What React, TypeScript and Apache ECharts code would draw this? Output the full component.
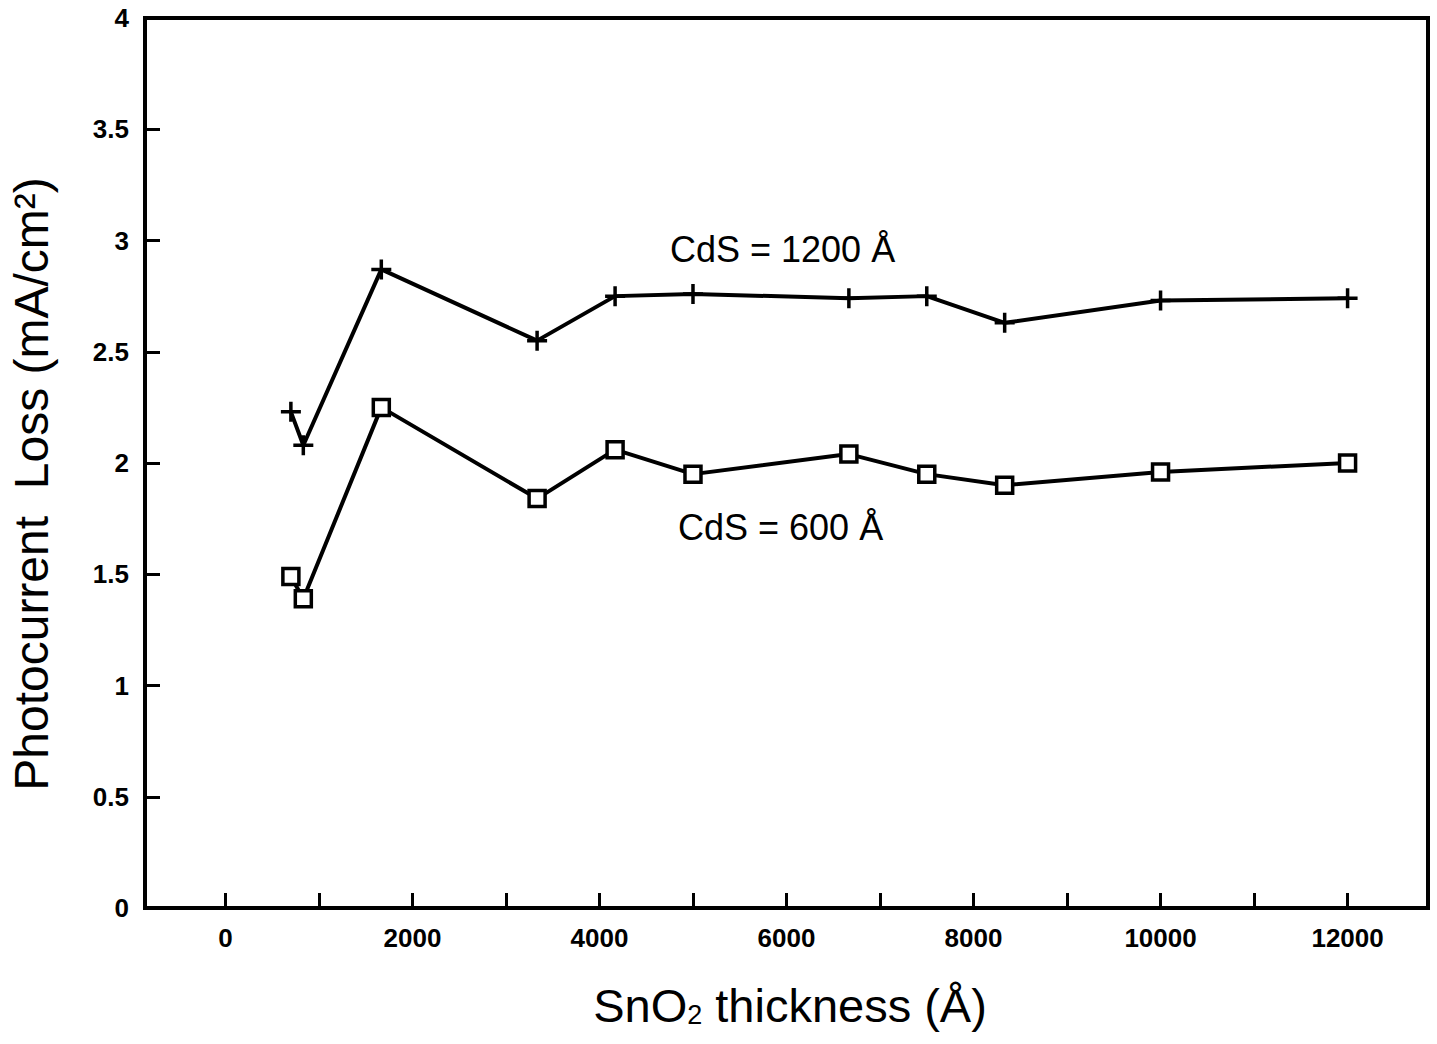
import React, { useEffect, useRef } from "react";
import * as echarts from "echarts";

// SnO2 thickness (Å) at which each cell was measured
const thickness = [700, 833, 1667, 3333, 4167, 5000, 6667, 7500, 8333, 10000, 12000];
// Photocurrent loss (mA/cm²) for the two CdS thicknesses
const lossCdS1200 = [2.23, 2.08, 2.87, 2.55, 2.75, 2.76, 2.74, 2.75, 2.63, 2.73, 2.74];
const lossCdS600 = [1.49, 1.39, 2.25, 1.84, 2.06, 1.95, 2.04, 1.95, 1.90, 1.96, 2.00];

const xTickValues = [0, 1000, 2000, 3000, 4000, 5000, 6000, 7000, 8000, 9000, 10000, 11000, 12000];
const xLabelValues = [0, 2000, 4000, 6000, 8000, 10000, 12000];

const FONT = "'Liberation Sans', Arial, Helvetica, sans-serif";

export default function App() {
  const ref = useRef<HTMLDivElement>(null);

  useEffect(() => {
    if (!ref.current) return;
    const chart = echarts.init(ref.current, null, { renderer: "svg" });

    const pair = (ys: number[]) => thickness.map((x, i) => [x, ys[i]]);

    chart.setOption({
      animation: false,
      backgroundColor: "#ffffff",
      grid: {
        left: 145,
        right: 9,
        top: 18,
        bottom: 136,
        show: true,
        borderColor: "#000",
        borderWidth: 4,
        backgroundColor: "transparent",
      },
      xAxis: {
        type: "value",
        min: -860,
        max: 12860,
        splitLine: { show: false },
        axisLine: { show: true, onZero: false, lineStyle: { color: "#000", width: 4 } },
        axisTick: {
          show: true,
          inside: true,
          length: 15,
          lineStyle: { color: "#000", width: 3 },
          customValues: xTickValues,
        },
        axisLabel: {
          customValues: xLabelValues,
          formatter: (v: number) => String(v),
          color: "#000",
          fontFamily: FONT,
          fontWeight: "bold",
          fontSize: 26,
          margin: 17,
        },
      },
      yAxis: {
        type: "value",
        min: 0,
        max: 4,
        interval: 0.5,
        splitLine: { show: false },
        axisLine: { show: true, onZero: false, lineStyle: { color: "#000", width: 4 } },
        axisTick: {
          show: true,
          inside: true,
          length: 15,
          lineStyle: { color: "#000", width: 3 },
        },
        axisLabel: {
          formatter: (v: number) => String(v),
          color: "#000",
          fontFamily: FONT,
          fontWeight: "bold",
          fontSize: 26,
          margin: 16,
        },
      },
      series: [
        {
          name: "CdS = 1200 Å",
          type: "line",
          data: pair(lossCdS1200),
          lineStyle: { color: "#000", width: 4 },
          symbol: "path://M10,0 L10,20 M0,10 L20,10",
          symbolSize: 20,
          showAllSymbol: true,
          itemStyle: { color: "#000", borderColor: "#000", borderWidth: 3.5 },
          z: 3,
        },
        {
          name: "CdS = 600 Å",
          type: "line",
          data: pair(lossCdS600),
          lineStyle: { color: "#000", width: 4 },
          symbol: "rect",
          symbolSize: 16,
          showAllSymbol: true,
          itemStyle: { color: "#fff", borderColor: "#000", borderWidth: 3.5 },
          z: 4,
        },
      ],
      graphic: [
        {
          type: "text",
          x: 670,
          y: 249,
          style: {
            text: "CdS = 1200 Å",
            font: `36px ${FONT}`,
            fill: "#000",
            align: "left",
            verticalAlign: "middle",
          },
        },
        {
          type: "text",
          x: 678,
          y: 527,
          style: {
            text: "CdS = 600 Å",
            font: `36px ${FONT}`,
            fill: "#000",
            align: "left",
            verticalAlign: "middle",
          },
        },
        {
          type: "text",
          x: 790,
          y: 1005,
          style: {
            text: "{m|SnO}{s|2}{m| thickness (Å)}",
            fill: "#000",
            align: "center",
            verticalAlign: "middle",
            rich: {
              m: { fontFamily: FONT, fontSize: 47, fill: "#000" },
              s: { fontFamily: FONT, fontSize: 27, fill: "#000", verticalAlign: "bottom" },
            },
          },
        },
        {
          type: "text",
          x: 31,
          y: 484,
          rotation: Math.PI / 2,
          style: {
            text: "Photocurrent  Loss (mA/cm²)",
            font: `48px ${FONT}`,
            fill: "#000",
            align: "center",
            verticalAlign: "middle",
          },
        },
      ],
    });

    return () => chart.dispose();
  }, []);

  return (
    <div
      ref={ref}
      style={{ position: "fixed", left: 0, top: 0, width: 1437, height: 1044 }}
    />
  );
}
